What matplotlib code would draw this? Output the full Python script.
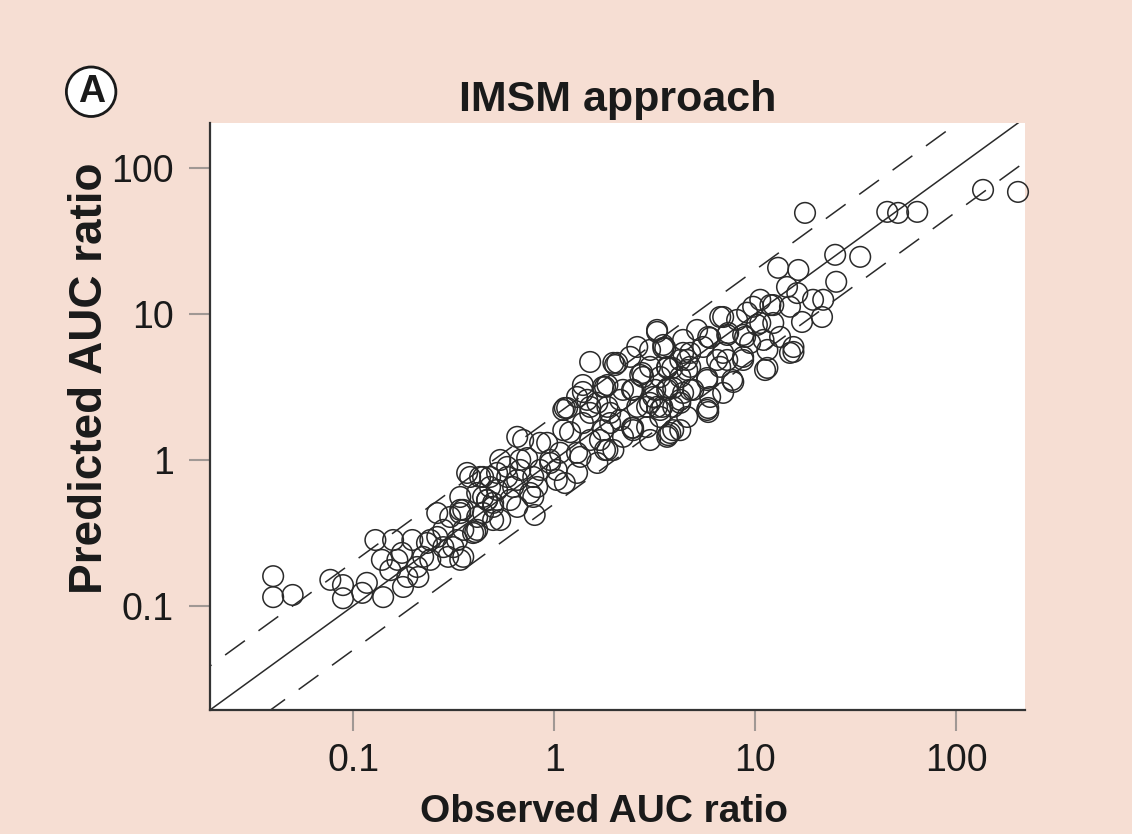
import matplotlib
matplotlib.use("Agg")
import matplotlib.pyplot as plt

plt.rcParams['font.family'] = ['Liberation Sans', 'DejaVu Sans']

# observed vs predicted AUC ratio
observed = [
    0.040, 0.040, 0.050, 0.077, 0.089, 0.089, 0.111, 0.141, 0.129, 0.139,
    0.175, 0.197, 0.186, 0.211, 0.177, 0.117, 0.153, 0.223, 0.281, 0.297,
    0.341, 0.353, 0.304, 0.405, 0.382, 0.443, 0.329, 0.262, 0.242, 0.353,
    0.341, 0.395, 0.464, 0.497, 0.315,
    0.341, 0.414, 0.520, 0.655, 0.497, 0.414, 0.655, 0.760, 0.369, 0.480,
    0.584, 0.701, 0.734, 0.923, 0.955, 1.30, 1.30, 1.84, 0.520, 0.480,
    0.625, 0.823, 0.464, 0.604, 0.787, 1.13, 1.20, 0.955, 1.64, 1.97,
    1.16, 1.51, 1.90, 2.44, 3.25, 3.78, 5.84, 1.11, 1.46, 1.39,
    1.84, 2.44, 3.69, 4.75, 5.77, 11.2, 8.71, 7.26, 14.9, 11.0,
    8.71, 7.26, 5.97, 4.38, 3.65, 2.74, 2.06, 1.51, 3.25, 1.97,
    2.68, 3.57, 4.59, 4.92, 2.47, 1.79, 1.39, 1.13, 1.51, 2.13,
    2.47, 3.37, 3.69, 1.79, 2.47, 3.65, 3.45, 5.77, 4.24, 3.49,
    2.20, 7.78, 1.75, 3.18, 3.91, 2.01, 3.65, 1.69, 0.851, 0.678,
    1.03, 0.80, 0.539,
    14.4, 9.77, 12.3, 6.70, 8.13, 10.2, 3.25, 5.84, 7.34, 8.91,
    11.5, 15.5, 11.5, 8.71, 6.93, 5.51, 4.75, 3.87, 3.49, 5.77,
    7.69, 3.65, 5.84, 3.00, 2.77, 4.24, 3.37, 3.91,
    17.7, 45.4, 51.4, 64.0, 136, 203, 33.3, 25.0, 25.3, 13.0,
    16.4, 19.4, 17.1, 21.5, 14.9, 11.9, 12.3, 10.6, 15.5,
    0.655, 0.851, 1.07, 1.35, 1.51, 1.11, 1.39, 1.75, 2.20, 2.90,
    3.11, 2.59, 2.13, 1.64, 1.30, 4.24, 4.24, 3.00, 2.39, 0.539,
    0.678, 0.787, 1.03, 0.584, 0.428, 0.497, 1.84, 2.90, 4.59, 5.97,
    4.59, 6.47, 2.59, 1.90, 3.00, 4.24, 0.158, 0.166, 0.242, 0.208,
    0.281, 0.353, 0.443, 0.443, 0.341, 0.414, 0.262, 0.233, 3.00, 4.38,
    5.14, 6.93, 9.12, 10.6, 16.2, 21.8, 4.75, 6.70, 9.44, 13.3,
    4.38, 6.93, 3.37, 3.91,
]
predicted = [
    0.160, 0.115, 0.119, 0.151, 0.139, 0.113, 0.123, 0.115, 0.283, 0.207,
    0.231, 0.283, 0.158, 0.158, 0.135, 0.144, 0.176, 0.217, 0.253, 0.217,
    0.207, 0.455, 0.407, 0.321, 0.765, 0.765, 0.283, 0.297, 0.283, 0.217,
    0.433, 0.316, 0.532, 0.388, 0.253,
    0.455, 0.594, 0.623, 0.730, 0.477, 0.332, 0.477, 0.594, 0.815, 0.765,
    0.896, 1.37, 1.03, 1.31, 1.00, 1.12, 0.815, 1.17, 0.815, 0.653,
    0.653, 0.653, 0.532, 0.532, 0.558, 0.695, 1.55, 0.954, 0.954, 1.17,
    2.27, 2.31, 2.10, 1.66, 2.31, 1.53, 2.27, 2.20, 2.58, 2.92,
    3.26, 3.02, 3.11, 3.02, 3.53, 4.13, 5.08, 4.84, 5.41, 6.64,
    7.18, 7.18, 6.85, 5.41, 4.27, 3.94, 4.62, 4.69, 7.53, 4.62,
    3.82, 5.85, 4.84, 3.02, 3.02, 3.16, 3.26, 2.27, 2.10, 1.88,
    1.66, 2.20, 1.48, 1.17, 1.60, 1.44, 2.31, 2.20, 4.84, 6.13,
    3.02, 3.42, 3.16, 3.02, 3.11, 4.47, 4.34, 1.37, 0.854, 1.00,
    0.854, 0.42, 0.388,
    15.3, 11.2, 11.5, 9.53, 9.10, 8.41, 7.77, 6.96, 7.41, 6.96,
    5.67, 5.49, 4.27, 4.84, 5.41, 5.94, 5.41, 4.27, 5.85, 3.64,
    3.53, 3.02, 2.13, 2.46, 3.70, 2.46, 1.97, 1.60,
    49.2, 50.0, 49.2, 50.0, 70.7, 68.5, 24.6, 25.4, 16.6, 20.7,
    20.0, 12.5, 8.81, 9.53, 11.2, 11.5, 8.67, 8.67, 5.94,
    1.44, 1.31, 1.12, 1.05, 1.37, 1.60, 1.79, 1.60, 1.44, 1.68,
    2.70, 2.31, 2.58, 2.46, 2.70, 2.58, 3.70, 4.34, 5.08, 1.00,
    0.854, 0.765, 0.730, 0.765, 0.765, 0.508, 2.31, 2.31, 1.97, 2.70,
    4.13, 4.84, 5.94, 1.79, 1.37, 1.60, 0.283, 0.207, 0.207, 0.185,
    0.332, 0.332, 0.433, 0.558, 0.558, 0.407, 0.433, 0.270, 5.67, 6.64,
    7.77, 9.53, 10.2, 12.5, 13.9, 12.5, 4.34, 4.34, 6.33, 6.96,
    2.88, 2.88, 3.70, 2.31,
]

ticks = [0.1, 1, 10, 100]
tick_labels = ['0.1', '1', '10', '100']
line_x = [0.005, 1000]

bg = '#F6DED3'
ink = '#2a2a2a'

fig = plt.figure(figsize=(11.32, 8.34), dpi=100, facecolor=bg)
ax = fig.add_axes([0.1855, 0.1487, 0.72, 0.7038])
ax.set_facecolor('white')

ax.set_xscale('log')
ax.set_yscale('log')

ax.plot(line_x, line_x, color=ink, lw=1.1)
ax.plot(line_x, [v * 2 for v in line_x], color=ink, lw=1.1, dashes=[16, 11])
ax.plot(line_x, [v / 2 for v in line_x], color=ink, lw=1.1, dashes=[16, 11])

ax.scatter(observed, predicted, s=220, facecolors='none', edgecolors=ink,
           linewidths=1.1, zorder=3, clip_on=False)

ax.set_xlim(0.0194, 220)
ax.set_ylim(0.0194, 203)

for side in ['top', 'right']:
    ax.spines[side].set_visible(False)
for side in ['left', 'bottom']:
    ax.spines[side].set_color('#333333')
    ax.spines[side].set_linewidth(1.6)

ax.set_xticks(ticks)
ax.set_xticklabels(tick_labels)
ax.set_yticks(ticks)
ax.set_yticklabels(tick_labels)
ax.minorticks_off()
ax.tick_params(axis='both', which='major', direction='out', length=15,
               width=1.5, color='#a09894', labelsize=27, labelcolor='#1a1a1a')
ax.tick_params(axis='x', pad=9)
ax.tick_params(axis='y', pad=11)

fig.text(0.546, 0.88, 'IMSM approach', ha='center', va='center',
         fontsize=31, fontweight='bold', color='#1a1a1a')
fig.text(0.534, 0.026, 'Observed AUC ratio', ha='center', va='center',
         fontsize=28, fontweight='bold', color='#1a1a1a')
fig.text(0.0905, 0.546, 'Predicted AUC ratio', ha='center', va='baseline',
         rotation=90, rotation_mode='anchor', fontsize=33, fontweight='bold',
         color='#1a1a1a')
fig.text(0.0805, 0.89, 'A', ha='center', va='center', fontsize=27,
         fontweight='bold', color='#1a1a1a',
         bbox=dict(boxstyle='circle,pad=0.18', fc='white', ec='#1a1a1a', lw=2))

fig.savefig('out.png', dpi=100, facecolor=bg)
